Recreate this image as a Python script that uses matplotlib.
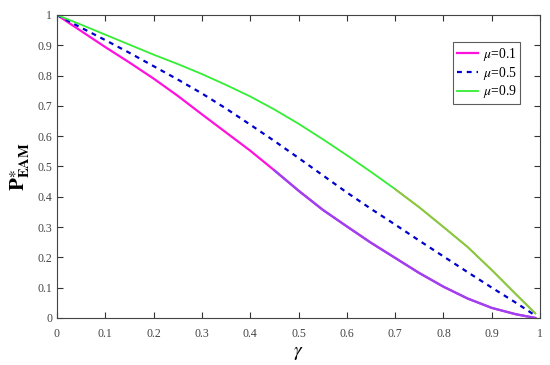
import matplotlib
matplotlib.use("Agg")
import matplotlib.pyplot as plt
import numpy as np

gamma = [0.0, 0.05, 0.1, 0.15, 0.2, 0.25, 0.3, 0.35, 0.4, 0.45, 0.5,
         0.55, 0.6, 0.65, 0.7, 0.75, 0.8, 0.85, 0.9, 0.95, 0.99]
mu01 = [1.0, 0.947, 0.894, 0.843, 0.790, 0.733, 0.672, 0.612, 0.552, 0.487, 0.420,
        0.357, 0.302, 0.248, 0.198, 0.148, 0.103, 0.064, 0.033, 0.012, 0.0]
mu05 = [1.0, 0.958, 0.917, 0.875, 0.831, 0.787, 0.741, 0.691, 0.638, 0.584, 0.528,
        0.471, 0.414, 0.360, 0.308, 0.255, 0.203, 0.151, 0.100, 0.050, 0.008]
mu09 = [1.0, 0.968, 0.935, 0.902, 0.869, 0.838, 0.805, 0.769, 0.731, 0.688, 0.641,
        0.590, 0.537, 0.482, 0.425, 0.365, 0.300, 0.234, 0.158, 0.078, 0.015]
labels = [r"$\mu$=0.1", r"$\mu$=0.5", r"$\mu$=0.9"]
xticks = [0, 0.1, 0.2, 0.3, 0.4, 0.5, 0.6, 0.7, 0.8, 0.9, 1]
yticks = [0, 0.1, 0.2, 0.3, 0.4, 0.5, 0.6, 0.7, 0.8, 0.9, 1]

plt.rcParams['font.family'] = ['Liberation Serif', 'DejaVu Serif']
plt.rcParams['mathtext.fontset'] = 'stix'

fig = plt.figure(figsize=(5.5, 3.65), dpi=100)
ax = fig.add_axes([0.1036, 0.129, 0.8784, 0.830])

g = np.array(gamma)
ax.plot(gamma, mu01, color='#ff11dd', lw=1.6, label=labels[0])
ax.plot(g[9:], np.array(mu01)[9:], color='#9a44f0', lw=1.6)
ax.plot(gamma, mu05, color='#0000cc', lw=1.6, ls=(0, (2.2, 2.2)), label=labels[1])
ax.plot(gamma, mu09, color='#33ee33', lw=1.3, label=labels[2])
ax.plot(g[14:], np.array(mu09)[14:], color='#99c040', lw=1.3)

ax.set_xlim(0, 1)
ax.set_ylim(0, 1)
ax.set_xticks(xticks)
ax.set_yticks(yticks)
ax.set_xticklabels([f"{t:g}" for t in xticks])
ax.set_yticklabels([f"{t:g}" for t in yticks])
ax.tick_params(direction='in', top=True, right=True, labelsize=8.5, length=4, width=0.8,
               colors='#333333', labelcolor='#444444')
ax.tick_params(axis='x', pad=7)
for s in ax.spines.values():
    s.set_color('#444444')
    s.set_linewidth(0.8)

ax.set_xlabel(r"$\gamma$", fontsize=14, labelpad=4)
ax.set_ylabel(r"$\mathbf{P}^{\ast}_{\mathbf{EAM}}$", fontsize=15, labelpad=4)

leg = ax.legend(loc='upper right', bbox_to_anchor=(0.965, 0.92), fontsize=9.8, frameon=True,
                fancybox=False, edgecolor='#333333', handlelength=1.6, handletextpad=0.3,
                borderpad=0.3, labelspacing=0.12, borderaxespad=0.2)
leg.get_frame().set_linewidth(0.8)

fig.savefig("out.png", dpi=100)
